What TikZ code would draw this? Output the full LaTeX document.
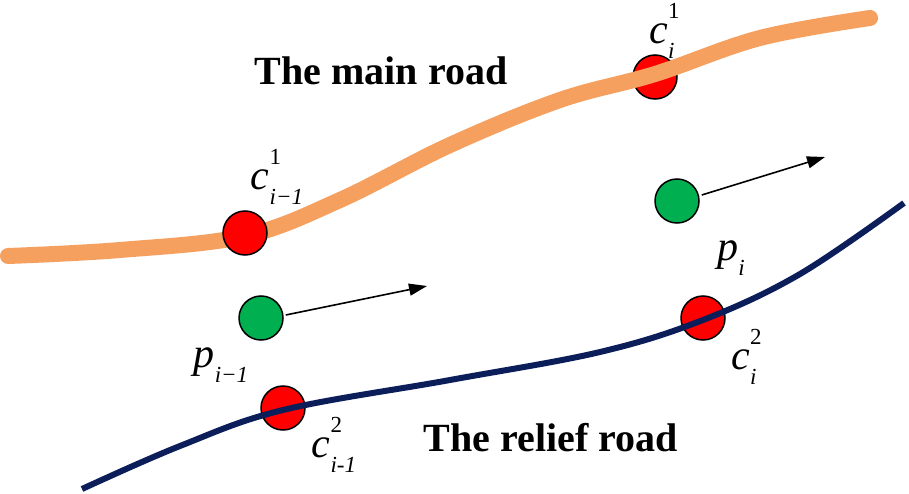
\documentclass[tikz,border=0pt]{standalone}
\usepackage{fontspec}
\setmainfont{Liberation Serif}
\usetikzlibrary{arrows.meta}
\definecolor{roadorange}{RGB}{245,160,95}
\definecolor{roadnavy}{RGB}{12,30,90}
\definecolor{ptgreen}{RGB}{0,176,80}
\newcommand{\lbl}[3]{\textit{#1}\makebox[0pt][l]{\raisebox{0.6em}{\fontsize{23}{23}\selectfont #3}}\raisebox{-0.36em}{\fontsize{23}{23}\selectfont\textit{#2}}}
\begin{document}
\begin{tikzpicture}[x=1pt,y=-1pt,
  cross/.style={circle,draw=black,line width=1.5pt,fill=red,minimum size=44pt,inner sep=0pt},
  pt/.style={circle,draw=black,line width=1.5pt,fill=ptgreen,minimum size=44pt,inner sep=0pt},
  lab/.style={font=\fontsize{42}{42}\selectfont,inner sep=0pt},
  title/.style={font=\fontsize{40}{40}\selectfont\bfseries,inner sep=0pt},
  move/.style={line width=1.6pt,-{Triangle[length=18pt,width=12pt]}}]
\useasboundingbox (0,0) rectangle (909,494);
% c_i^1 lies under the main road
\node[cross] (c1i) at (655,77) {};
\draw[roadorange,line width=16pt,line cap=round] plot[smooth,tension=0.6] coordinates
  {(8,256) (120,250) (245,236) (340,200) (450,145) (560,100) (655,74) (760,38) (870,18)};
\node[cross] (c1im) at (245,233) {};
% relief road over its crossing points
\node[cross] (c2i) at (703,318) {};
\node[cross] (c2im) at (283,408) {};
\draw[roadnavy,line width=6pt] plot[smooth,tension=0.6] coordinates
  {(82,489) (180,446) (283,410) (450,380) (600,352) (703,320) (800,274) (904,203)};
% positions and moves
\node[pt] (pi) at (677,201) {};
\node[pt] (pim) at (261,318) {};
\coordinate (ai) at (825,157);
\coordinate (aim) at (427,286);
\draw[move] (pi.east) ++(2,-6) -- (ai);
\draw[move] (pim.east) ++(2,-3) -- (aim);
% labels
\node[lab] (tc1i) at (662,31) {\lbl{c}{i}{1}};
\node[lab] (tc1im) at (277,177) {\lbl{c}{i−1}{1}};
\node[lab] (tpi) at (731,255) {\lbl{p}{i}{}};
\node[lab] (tpim) at (221,362) {\lbl{p}{i−1}{}};
\node[lab] (tc2i) at (744,357) {\lbl{c}{i}{2}};
\node[lab] (tc2im) at (334,445) {\lbl{c}{i-1}{2}};
\node[title] (main) at (381,71) {The main road};
\node[title] (relief) at (551,438) {The relief road};
\end{tikzpicture}
\end{document}
